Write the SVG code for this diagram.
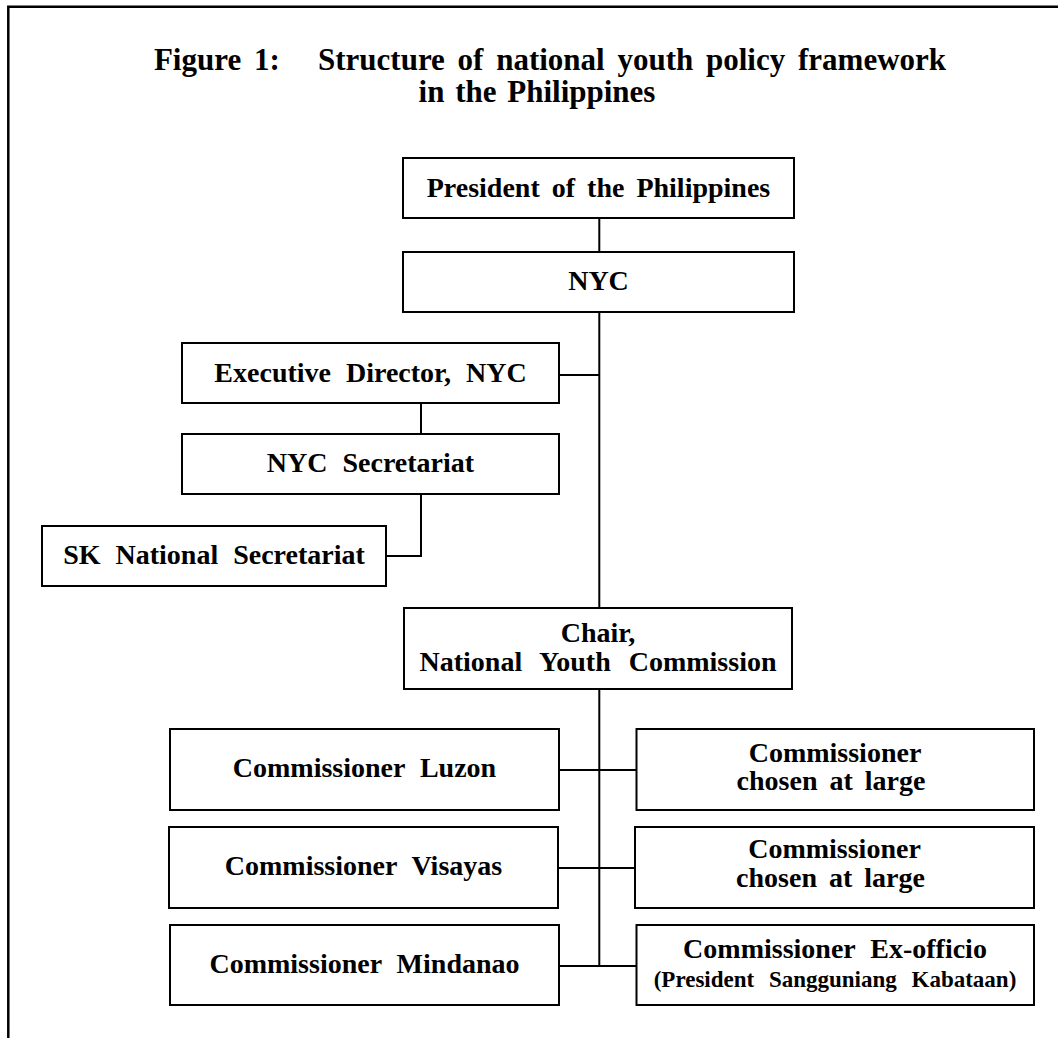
<svg xmlns="http://www.w3.org/2000/svg" width="1058" height="1038" viewBox="0 0 1058 1038">
<style>
.box{fill:#fff;stroke:#000;stroke-width:2}
.ln{fill:none;stroke:#000;stroke-width:2}
text{font-family:"Liberation Serif","Times New Roman",serif;font-weight:bold;fill:#000;text-anchor:middle}
.t{font-size:28px;word-spacing:8px}
.s{font-size:23px;word-spacing:9px}
.h{font-size:31px;word-spacing:5px}
</style>
<rect width="1058" height="1038" fill="#fff"/>
<path d="M8.3 1038V6.7H1058" fill="none" stroke="#000" stroke-width="2.5"/>
<g id="title">
<text class="h" x="550" y="70" xml:space="preserve">Figure 1:   Structure of national youth policy framework</text>
<text class="h" x="537" y="102" style="word-spacing:3px">in the Philippines</text>
</g>
<g id="connectors">
<path class="ln" d="M599.3 218V252M599.3 312V608M559 375H599.3M421 403V434M421 494V556H386M599.3 689V966M559 770H636.5M558 868H635M559 966H636.5"/>
</g>
<g id="president"><rect class="box" x="403" y="158" width="391" height="60"/><text class="t" x="598.5" y="196.5" style="word-spacing:5px">President of the Philippines</text></g>
<g id="nyc"><rect class="box" x="403" y="252" width="391" height="60"/><text class="t" x="598.5" y="289.5">NYC</text></g>
<g id="exec"><rect class="box" x="182" y="343" width="377" height="60"/><text class="t" x="370.5" y="381.5">Executive Director, NYC</text></g>
<g id="nycsec"><rect class="box" x="182" y="434" width="377" height="60"/><text class="t" x="370.5" y="471.5">NYC Secretariat</text></g>
<g id="sk"><rect class="box" x="42" y="526" width="344" height="60"/><text class="t" x="214" y="564">SK National Secretariat</text></g>
<g id="chair"><rect class="box" x="404" y="608" width="388" height="81"/><text class="t" x="598" y="641.5">Chair,</text><text class="t" x="598" y="670.5" style="word-spacing:11px">National Youth Commission</text></g>
<g id="luzon"><rect class="box" x="170" y="729" width="389" height="81"/><text class="t" x="364.5" y="777">Commissioner Luzon</text></g>
<g id="large1"><rect class="box" x="636.5" y="729" width="397.5" height="81"/><text class="t" x="835" y="761.5">Commissioner</text><text class="t" x="831" y="789.5" style="word-spacing:5px">chosen at large</text></g>
<g id="visayas"><rect class="box" x="169" y="827" width="389" height="81"/><text class="t" x="363.5" y="874.5">Commissioner Visayas</text></g>
<g id="large2"><rect class="box" x="635" y="827" width="399" height="81"/><text class="t" x="834.5" y="857.5">Commissioner</text><text class="t" x="830.5" y="886.5" style="word-spacing:5px">chosen at large</text></g>
<g id="mindanao"><rect class="box" x="170" y="925" width="389" height="80"/><text class="t" x="364.5" y="972.5">Commissioner Mindanao</text></g>
<g id="exofficio"><rect class="box" x="636.5" y="925" width="397.5" height="80"/><text class="t" x="835" y="957.5">Commissioner Ex-officio</text><text class="s" x="835" y="986.5">(President Sangguniang Kabataan)</text></g>
</svg>
